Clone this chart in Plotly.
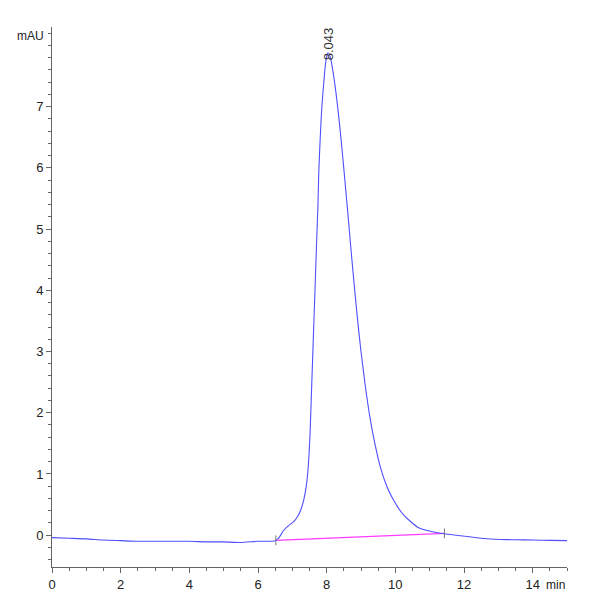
import plotly.graph_objects as go

# Chromatogram trace (min, mAU)
time_min = [0, 0.5, 1, 1.5, 2, 2.5, 3, 3.5, 4, 4.5, 5, 5.5, 6, 6.3, 6.5,
            6.6, 6.75, 6.9, 7.04, 7.15, 7.25, 7.33, 7.40, 7.45, 7.49, 7.52,
            7.57, 7.62, 7.67, 7.72, 7.745, 7.77, 7.81, 7.86, 7.94, 7.98, 8.04,
            8.10, 8.19, 8.32, 8.42, 8.52, 8.61, 8.70, 8.80, 8.90, 9.00,
            9.13, 9.25, 9.38, 9.56, 9.75, 9.95, 10.24, 10.68, 11.31, 11.89,
            12.5, 13.06, 13.5, 14.03, 14.5, 15.0]
signal_mau = [-0.04, -0.05, -0.06, -0.08, -0.09, -0.10, -0.10, -0.10, -0.10,
              -0.11, -0.11, -0.12, -0.10, -0.10, -0.09,
              -0.05, 0.08, 0.16, 0.22, 0.30, 0.42, 0.57, 0.78, 1.02, 1.35, 1.72,
              2.54, 3.35, 4.17, 4.99, 5.37, 5.92, 6.46, 7.00, 7.55, 7.76, 7.88,
              7.82, 7.55, 7.00, 6.46, 5.86, 5.30, 4.72, 4.10, 3.52, 3.00,
              2.42, 1.96, 1.56, 1.12, 0.80, 0.57, 0.33, 0.12, 0.03, -0.01,
              -0.05, -0.07, -0.075, -0.08, -0.085, -0.09]

# integration baseline
base_x = [6.52, 11.43]
base_y = [-0.085, 0.03]

peak_rt = 8.043
peak_label = "8.043"

fig = go.Figure()

fig.add_trace(go.Scatter(
    x=base_x, y=base_y, mode='lines',
    line=dict(color='#ff3cff', width=1.2),
    hoverinfo='skip'
))

fig.add_trace(go.Scatter(
    x=time_min, y=signal_mau, mode='lines',
    line=dict(color='#4f4fff', width=1.1, shape='spline', smoothing=0.6),
    hoverinfo='skip'
))

fig.add_trace(go.Scatter(
    x=base_x, y=base_y, mode='markers',
    marker=dict(symbol='line-ns-open', size=7, color='#777',
                line=dict(color='#777', width=1)),
    hoverinfo='skip'
))

fig.add_annotation(
    x=peak_rt, y=8.02, xref='x', yref='y', text=peak_label,
    textangle=-90, showarrow=False, xanchor='center', yanchor='middle',
    font=dict(family='Liberation Sans', size=13, color='#333')
)

axis_font = dict(family='Liberation Sans', size=13, color='#222')

fig.add_annotation(
    x=0, y=8.16, xref='paper', yref='y', text='mAU', showarrow=False,
    xanchor='right', yanchor='middle', xshift=-6,
    font=dict(family='Liberation Sans', size=12, color='#222')
)
fig.add_annotation(
    x=1, y=0, xref='paper', yref='paper', text='min', showarrow=False,
    xanchor='right', yanchor='top', yshift=-9,
    font=dict(family='Liberation Sans', size=12, color='#222')
)

# the page has an 8px body margin, so the figure is shrunk to fit
fig.update_layout(
    width=592, height=592,
    margin=dict(l=44, r=33, t=19, b=33),
    paper_bgcolor='white', plot_bgcolor='white',
    showlegend=False,
)

fig.update_xaxes(
    range=[0, 15], tickvals=[0, 2, 4, 6, 8, 10, 12, 14], automargin=False,
    showgrid=False, zeroline=False, showline=True, linecolor='#666', linewidth=1,
    ticks='outside', ticklen=5, tickcolor='#666', tickfont=axis_font,
    minor=dict(dtick=0.5, ticks='outside', ticklen=3, tickcolor='#666')
)
fig.update_yaxes(
    range=[-0.52, 8.3], tickvals=[0, 1, 2, 3, 4, 5, 6, 7], automargin=False,
    showgrid=False, zeroline=False, showline=True, linecolor='#666', linewidth=1,
    ticks='outside', ticklen=5, tickcolor='#666', tickfont=axis_font,
    minor=dict(dtick=0.2, ticks='outside', ticklen=3, tickcolor='#666')
)

fig.write_html("out.html")
